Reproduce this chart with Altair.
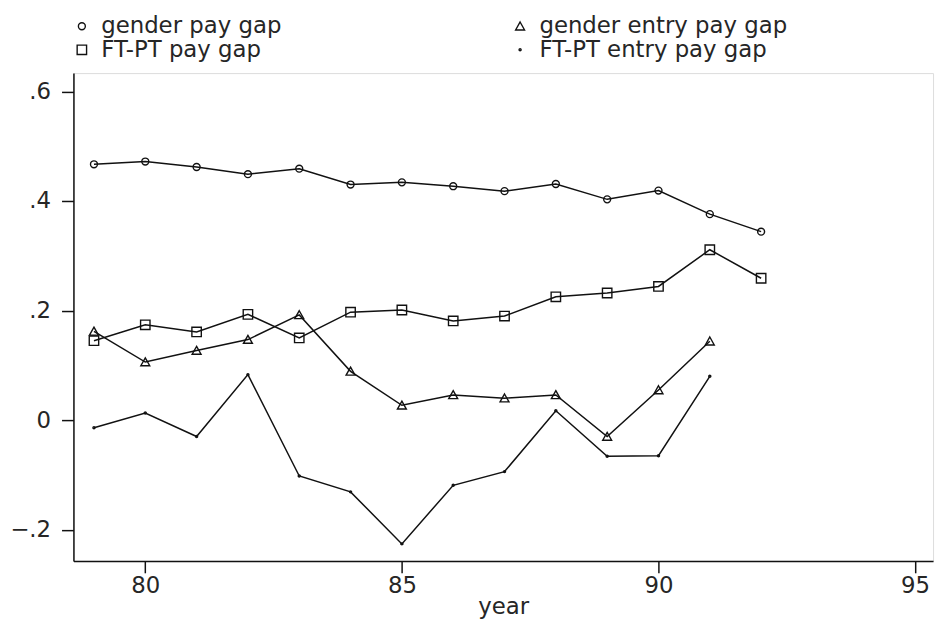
import altair as alt
import pandas as pd

# ---- data ----
years = list(range(79, 93))
gender_pay_gap = [0.467, 0.472, 0.462, 0.449, 0.459, 0.430, 0.434,
                  0.427, 0.418, 0.431, 0.403, 0.419, 0.376, 0.344]
ftpt_pay_gap = [0.145, 0.174, 0.161, 0.193, 0.150, 0.197, 0.201,
                0.181, 0.190, 0.225, 0.232, 0.244, 0.311, 0.259]

entry_years = list(range(79, 92))
gender_entry_pay_gap = [0.162, 0.106, 0.127, 0.147, 0.192, 0.089, 0.027,
                        0.046, 0.040, 0.046, -0.030, 0.055, 0.144]
ftpt_entry_pay_gap = [-0.014, 0.013, -0.030, 0.083, -0.102, -0.131, -0.226,
                      -0.119, -0.094, 0.017, -0.066, -0.065, 0.080]

# legend order (filled column by column): col 1 = pay gaps, col 2 = entry pay gaps
series_names = ["gender pay gap", "FT-PT pay gap",
                "gender entry pay gap", "FT-PT entry pay gap"]
x_ticks = [80, 85, 90, 95]
y_ticks = [-0.2, 0, 0.2, 0.4, 0.6]

# marker glyphs (unit box -1..1)
CIRCLE = "M-0.7,0A0.7,0.7,0,1,1,0.7,0A0.7,0.7,0,1,1,-0.7,0Z"
SQUARE = "M-0.95,-0.95L0.95,-0.95L0.95,0.95L-0.95,0.95Z"
TRIANGLE = "M0,-0.85L0.9,0.75L-0.9,0.75Z"
DOT = "M-0.2,0A0.2,0.2,0,1,1,0.2,0A0.2,0.2,0,1,1,-0.2,0Z"
series_shapes = [CIRCLE, SQUARE, TRIANGLE, DOT]

rows = []
for yr, v in zip(years, gender_pay_gap):
    rows.append({"year": yr, "value": v, "series": "gender pay gap"})
for yr, v in zip(entry_years, gender_entry_pay_gap):
    rows.append({"year": yr, "value": v, "series": "gender entry pay gap"})
for yr, v in zip(years, ftpt_pay_gap):
    rows.append({"year": yr, "value": v, "series": "FT-PT pay gap"})
for yr, v in zip(entry_years, ftpt_entry_pay_gap):
    rows.append({"year": yr, "value": v, "series": "FT-PT entry pay gap"})
df = pd.DataFrame(rows)

FONT = "DejaVu Sans"
INK = "#111111"
TXT = "#262626"

x = alt.X("year:Q",
          scale=alt.Scale(domain=[78.6, 95.35], nice=False, zero=False),
          axis=alt.Axis(values=x_ticks, title="year", grid=False,
                        tickSize=12, tickWidth=1.5, tickColor=INK,
                        domainColor=INK, domainWidth=1.5,
                        labelFont=FONT, labelFontSize=23, labelColor=TXT,
                        labelPadding=2, labelFlush=False,
                        titleFont=FONT, titleFontSize=23, titleColor=TXT,
                        titleFontWeight="normal", titlePadding=-2))
y = alt.Y("value:Q",
          scale=alt.Scale(domain=[-0.257, 0.6335], nice=False, zero=False),
          axis=alt.Axis(values=y_ticks, title=None, grid=False,
                        labelExpr="datum.value == 0 ? '0' : replace(format(datum.value, '.1f'), '0.', '.')",
                        tickSize=12, tickWidth=1.5, tickColor=INK,
                        domainColor=INK, domainWidth=1.5,
                        labelFont=FONT, labelFontSize=23, labelColor=TXT,
                        labelPadding=11))

legend = alt.Legend(title=None, orient="none", legendX=-3, legendY=-59,
                    columns=2, columnPadding=229, rowPadding=0,
                    labelFont=FONT, labelFontSize=23, labelColor=TXT,
                    labelOffset=8, labelLimit=500, symbolSize=100,
                    symbolStrokeColor=INK, symbolFillColor="transparent",
                    symbolStrokeWidth=1.4, padding=0)

lines = alt.Chart(df).mark_line(color=INK, strokeWidth=1.5).encode(
    x=x, y=y, detail="series:N")

points = alt.Chart(df).mark_point(filled=False, color=INK, strokeWidth=1.4,
                                  size=100, opacity=1).encode(
    x=x, y=y,
    shape=alt.Shape("series:N",
                    scale=alt.Scale(domain=series_names, range=series_shapes),
                    legend=legend))

chart = alt.layer(lines, points).properties(
    width=867, height=492,
    padding={"left": 66, "top": 63, "right": 5, "bottom": 60},
    autosize=alt.AutoSizeParams(type="none"),
).configure_view(strokeWidth=0).configure(background="white")

chart.save("out.html", embed_options={"renderer": "svg", "actions": False})
